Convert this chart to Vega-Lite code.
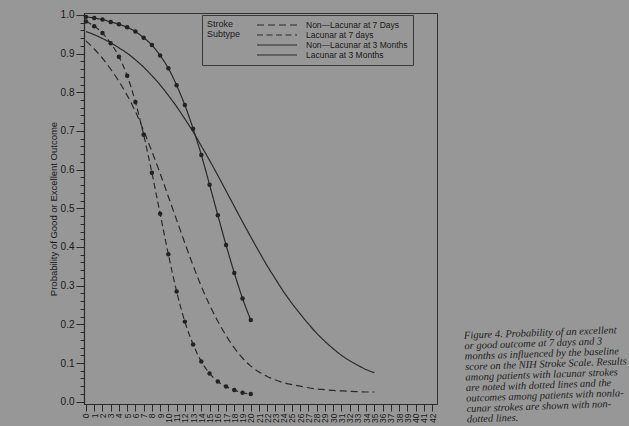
{
  "$schema": "https://vega.github.io/schema/vega-lite/v6.json",
  "width": 353,
  "height": 391,
  "autosize": {"type": "none"},
  "padding": {"left": 84, "top": 13, "right": 192, "bottom": 22},
  "background": "#979797",
  "title": {
    "text": [
      "Figure 4. Probability of an excellent",
      "or good outcome at 7 days and 3",
      "months as influenced by the baseline",
      "score on the NIH Stroke Scale. Results",
      "among patients with lacunar strokes",
      "are noted with dotted lines and the",
      "outcomes among patients with nonla-",
      "cunar strokes are shown with non-",
      "dotted lines."
    ],
    "orient": "right",
    "anchor": "start",
    "frame": "group",
    "angle": -2,
    "align": "left",
    "baseline": "top",
    "offset": 18,
    "dx": -167,
    "dy": 312,
    "font": "Liberation Serif",
    "fontStyle": "italic",
    "fontWeight": "normal",
    "fontSize": 10.5,
    "lineHeight": 10.5,
    "color": "#1e1e1e"
  },
  "datasets": {
    "curves": [
      {"s": "Non—Lacunar at 7 Days", "x": 0, "p": 0.933},
      {"s": "Non—Lacunar at 7 Days", "x": 1, "p": 0.912},
      {"s": "Non—Lacunar at 7 Days", "x": 2, "p": 0.888},
      {"s": "Non—Lacunar at 7 Days", "x": 3, "p": 0.86},
      {"s": "Non—Lacunar at 7 Days", "x": 4, "p": 0.828},
      {"s": "Non—Lacunar at 7 Days", "x": 5, "p": 0.792},
      {"s": "Non—Lacunar at 7 Days", "x": 6, "p": 0.75},
      {"s": "Non—Lacunar at 7 Days", "x": 7, "p": 0.701},
      {"s": "Non—Lacunar at 7 Days", "x": 8, "p": 0.647},
      {"s": "Non—Lacunar at 7 Days", "x": 9, "p": 0.59},
      {"s": "Non—Lacunar at 7 Days", "x": 10, "p": 0.53},
      {"s": "Non—Lacunar at 7 Days", "x": 11, "p": 0.47},
      {"s": "Non—Lacunar at 7 Days", "x": 12, "p": 0.41},
      {"s": "Non—Lacunar at 7 Days", "x": 13, "p": 0.352},
      {"s": "Non—Lacunar at 7 Days", "x": 14, "p": 0.298},
      {"s": "Non—Lacunar at 7 Days", "x": 15, "p": 0.25},
      {"s": "Non—Lacunar at 7 Days", "x": 16, "p": 0.208},
      {"s": "Non—Lacunar at 7 Days", "x": 17, "p": 0.171},
      {"s": "Non—Lacunar at 7 Days", "x": 18, "p": 0.139},
      {"s": "Non—Lacunar at 7 Days", "x": 19, "p": 0.113},
      {"s": "Non—Lacunar at 7 Days", "x": 20, "p": 0.092},
      {"s": "Non—Lacunar at 7 Days", "x": 21, "p": 0.077},
      {"s": "Non—Lacunar at 7 Days", "x": 22, "p": 0.065},
      {"s": "Non—Lacunar at 7 Days", "x": 23, "p": 0.056},
      {"s": "Non—Lacunar at 7 Days", "x": 24, "p": 0.049},
      {"s": "Non—Lacunar at 7 Days", "x": 25, "p": 0.044},
      {"s": "Non—Lacunar at 7 Days", "x": 26, "p": 0.04},
      {"s": "Non—Lacunar at 7 Days", "x": 27, "p": 0.036},
      {"s": "Non—Lacunar at 7 Days", "x": 28, "p": 0.033},
      {"s": "Non—Lacunar at 7 Days", "x": 29, "p": 0.031},
      {"s": "Non—Lacunar at 7 Days", "x": 30, "p": 0.029},
      {"s": "Non—Lacunar at 7 Days", "x": 31, "p": 0.028},
      {"s": "Non—Lacunar at 7 Days", "x": 32, "p": 0.027},
      {"s": "Non—Lacunar at 7 Days", "x": 33, "p": 0.026},
      {"s": "Non—Lacunar at 7 Days", "x": 34, "p": 0.025},
      {"s": "Non—Lacunar at 7 Days", "x": 35, "p": 0.025},
      {"s": "Lacunar at 7 days", "x": 0, "p": 0.983},
      {"s": "Lacunar at 7 days", "x": 1, "p": 0.971},
      {"s": "Lacunar at 7 days", "x": 2, "p": 0.953},
      {"s": "Lacunar at 7 days", "x": 3, "p": 0.927},
      {"s": "Lacunar at 7 days", "x": 4, "p": 0.892},
      {"s": "Lacunar at 7 days", "x": 5, "p": 0.843},
      {"s": "Lacunar at 7 days", "x": 6, "p": 0.775},
      {"s": "Lacunar at 7 days", "x": 7, "p": 0.69},
      {"s": "Lacunar at 7 days", "x": 8, "p": 0.592},
      {"s": "Lacunar at 7 days", "x": 9, "p": 0.486},
      {"s": "Lacunar at 7 days", "x": 10, "p": 0.381},
      {"s": "Lacunar at 7 days", "x": 11, "p": 0.285},
      {"s": "Lacunar at 7 days", "x": 12, "p": 0.207},
      {"s": "Lacunar at 7 days", "x": 13, "p": 0.148},
      {"s": "Lacunar at 7 days", "x": 14, "p": 0.104},
      {"s": "Lacunar at 7 days", "x": 15, "p": 0.073},
      {"s": "Lacunar at 7 days", "x": 16, "p": 0.052},
      {"s": "Lacunar at 7 days", "x": 17, "p": 0.039},
      {"s": "Lacunar at 7 days", "x": 18, "p": 0.03},
      {"s": "Lacunar at 7 days", "x": 19, "p": 0.023},
      {"s": "Lacunar at 7 days", "x": 20, "p": 0.02},
      {"s": "Non—Lacunar at 3 Months", "x": 0, "p": 0.957},
      {"s": "Non—Lacunar at 3 Months", "x": 1, "p": 0.949},
      {"s": "Non—Lacunar at 3 Months", "x": 2, "p": 0.939},
      {"s": "Non—Lacunar at 3 Months", "x": 3, "p": 0.928},
      {"s": "Non—Lacunar at 3 Months", "x": 4, "p": 0.915},
      {"s": "Non—Lacunar at 3 Months", "x": 5, "p": 0.901},
      {"s": "Non—Lacunar at 3 Months", "x": 6, "p": 0.884},
      {"s": "Non—Lacunar at 3 Months", "x": 7, "p": 0.865},
      {"s": "Non—Lacunar at 3 Months", "x": 8, "p": 0.843},
      {"s": "Non—Lacunar at 3 Months", "x": 9, "p": 0.819},
      {"s": "Non—Lacunar at 3 Months", "x": 10, "p": 0.792},
      {"s": "Non—Lacunar at 3 Months", "x": 11, "p": 0.763},
      {"s": "Non—Lacunar at 3 Months", "x": 12, "p": 0.731},
      {"s": "Non—Lacunar at 3 Months", "x": 13, "p": 0.698},
      {"s": "Non—Lacunar at 3 Months", "x": 14, "p": 0.661},
      {"s": "Non—Lacunar at 3 Months", "x": 15, "p": 0.624},
      {"s": "Non—Lacunar at 3 Months", "x": 16, "p": 0.585},
      {"s": "Non—Lacunar at 3 Months", "x": 17, "p": 0.545},
      {"s": "Non—Lacunar at 3 Months", "x": 18, "p": 0.505},
      {"s": "Non—Lacunar at 3 Months", "x": 19, "p": 0.465},
      {"s": "Non—Lacunar at 3 Months", "x": 20, "p": 0.426},
      {"s": "Non—Lacunar at 3 Months", "x": 21, "p": 0.388},
      {"s": "Non—Lacunar at 3 Months", "x": 22, "p": 0.351},
      {"s": "Non—Lacunar at 3 Months", "x": 23, "p": 0.317},
      {"s": "Non—Lacunar at 3 Months", "x": 24, "p": 0.284},
      {"s": "Non—Lacunar at 3 Months", "x": 25, "p": 0.254},
      {"s": "Non—Lacunar at 3 Months", "x": 26, "p": 0.227},
      {"s": "Non—Lacunar at 3 Months", "x": 27, "p": 0.201},
      {"s": "Non—Lacunar at 3 Months", "x": 28, "p": 0.177},
      {"s": "Non—Lacunar at 3 Months", "x": 29, "p": 0.156},
      {"s": "Non—Lacunar at 3 Months", "x": 30, "p": 0.137},
      {"s": "Non—Lacunar at 3 Months", "x": 31, "p": 0.12},
      {"s": "Non—Lacunar at 3 Months", "x": 32, "p": 0.106},
      {"s": "Non—Lacunar at 3 Months", "x": 33, "p": 0.094},
      {"s": "Non—Lacunar at 3 Months", "x": 34, "p": 0.083},
      {"s": "Non—Lacunar at 3 Months", "x": 35, "p": 0.075},
      {"s": "Lacunar at 3 Months", "x": 0, "p": 0.995},
      {"s": "Lacunar at 3 Months", "x": 1, "p": 0.992},
      {"s": "Lacunar at 3 Months", "x": 2, "p": 0.988},
      {"s": "Lacunar at 3 Months", "x": 3, "p": 0.982},
      {"s": "Lacunar at 3 Months", "x": 4, "p": 0.976},
      {"s": "Lacunar at 3 Months", "x": 5, "p": 0.968},
      {"s": "Lacunar at 3 Months", "x": 6, "p": 0.957},
      {"s": "Lacunar at 3 Months", "x": 7, "p": 0.941},
      {"s": "Lacunar at 3 Months", "x": 8, "p": 0.922},
      {"s": "Lacunar at 3 Months", "x": 9, "p": 0.895},
      {"s": "Lacunar at 3 Months", "x": 10, "p": 0.862},
      {"s": "Lacunar at 3 Months", "x": 11, "p": 0.818},
      {"s": "Lacunar at 3 Months", "x": 12, "p": 0.767},
      {"s": "Lacunar at 3 Months", "x": 13, "p": 0.706},
      {"s": "Lacunar at 3 Months", "x": 14, "p": 0.638},
      {"s": "Lacunar at 3 Months", "x": 15, "p": 0.561},
      {"s": "Lacunar at 3 Months", "x": 16, "p": 0.482},
      {"s": "Lacunar at 3 Months", "x": 17, "p": 0.405},
      {"s": "Lacunar at 3 Months", "x": 18, "p": 0.333},
      {"s": "Lacunar at 3 Months", "x": 19, "p": 0.267},
      {"s": "Lacunar at 3 Months", "x": 20, "p": 0.211}
    ]
  },
  "data": {"name": "curves"},
  "encoding": {
    "x": {
      "field": "x",
      "type": "quantitative",
      "scale": {"domain": [-0.24, 42.6], "nice": false, "zero": false},
      "axis": {
        "title": null,
        "values": [0,1,2,3,4,5,6,7,8,9,10,11,12,13,14,15,16,17,18,19,20,21,22,23,24,25,26,27,28,29,30,31,32,33,34,35,36,37,38,39,40,41,42],
        "labelAngle": 270,
        "labelFontSize": 8.5,
        "labelPadding": 2,
        "tickSize": 7,
        "labelOverlap": false,
        "labelFlush": false
      }
    }
  },
  "layer": [
    {
      "mark": {"type": "line", "strokeWidth": 1.2, "color": "#2a2a2a", "interpolate": "monotone"},
      "encoding": {
        "y": {
          "field": "p",
          "type": "quantitative",
          "scale": {"domain": [-0.006, 1.005], "nice": false, "zero": false},
          "axis": {
            "orient": "left",
            "title": "Probability of Good or Excellent Outcome",
            "values": [0, 0.1, 0.2, 0.3, 0.4, 0.5, 0.6, 0.7, 0.8, 0.9, 1.0],
            "format": ".1f",
            "tickSize": 8,
            "labelPadding": 2,
            "labelFontSize": 10,
            "titleFontSize": 9.5,
            "titleFontWeight": "normal",
            "titlePadding": 2
          }
        },
        "strokeDash": {
          "field": "s",
          "type": "nominal",
          "scale": {
            "domain": ["Non—Lacunar at 7 Days", "Lacunar at 7 days", "Non—Lacunar at 3 Months", "Lacunar at 3 Months"],
            "range": [[7, 4], [6, 3.5], [1, 0], [1, 0]]
          },
          "legend": {
            "title": ["Stroke", "Subtype"],
            "orient": "none",
            "legendX": 118,
            "legendY": 2,
            "titleOrient": "left",
            "titleAnchor": "start",
            "titleBaseline": "top",
            "titleFontSize": 9,
            "titleFontWeight": "normal",
            "titleLineHeight": 10,
            "titlePadding": 31,
            "labelFontSize": 8.5,
            "labelOffset": 24,
            "symbolType": "M-5,0H5",
            "symbolSize": 64,
            "symbolStrokeWidth": 1.1,
            "symbolStrokeColor": "#2a2a2a",
            "rowPadding": 0,
            "padding": 5,
            "strokeColor": "#3a3a3a"
          }
        }
      }
    },
    {
      "transform": [{"filter": {"field": "s", "oneOf": ["Lacunar at 7 days", "Lacunar at 3 Months"]}}],
      "mark": {"type": "point", "filled": true, "size": 20, "color": "#222222", "opacity": 1},
      "encoding": {
        "y": {
          "field": "p",
          "type": "quantitative",
          "scale": {"domain": [-0.006, 1.005], "nice": false, "zero": false},
          "axis": {
            "orient": "left",
            "title": null,
            "labels": false,
            "domain": false,
            "tickSize": 4,
            "values": [0.02,0.04,0.06,0.08,0.12,0.14,0.16,0.18,0.22,0.24,0.26,0.28,0.32,0.34,0.36,0.38,0.42,0.44,0.46,0.48,0.52,0.54,0.56,0.58,0.62,0.64,0.66,0.68,0.72,0.74,0.76,0.78,0.82,0.84,0.86,0.88,0.92,0.94,0.96,0.98]
          }
        }
      }
    }
  ],
  "resolve": {"axis": {"y": "independent"}},
  "config": {
    "font": "Liberation Sans",
    "view": {"stroke": "#333333", "strokeWidth": 1},
    "axis": {
      "grid": false,
      "domainColor": "#2a2a2a",
      "domainWidth": 1.2,
      "tickColor": "#2a2a2a",
      "tickWidth": 1,
      "labelColor": "#1a1a1a",
      "titleColor": "#1a1a1a"
    },
    "legend": {
      "labelColor": "#1a1a1a",
      "titleColor": "#1a1a1a"
    }
  }
}
